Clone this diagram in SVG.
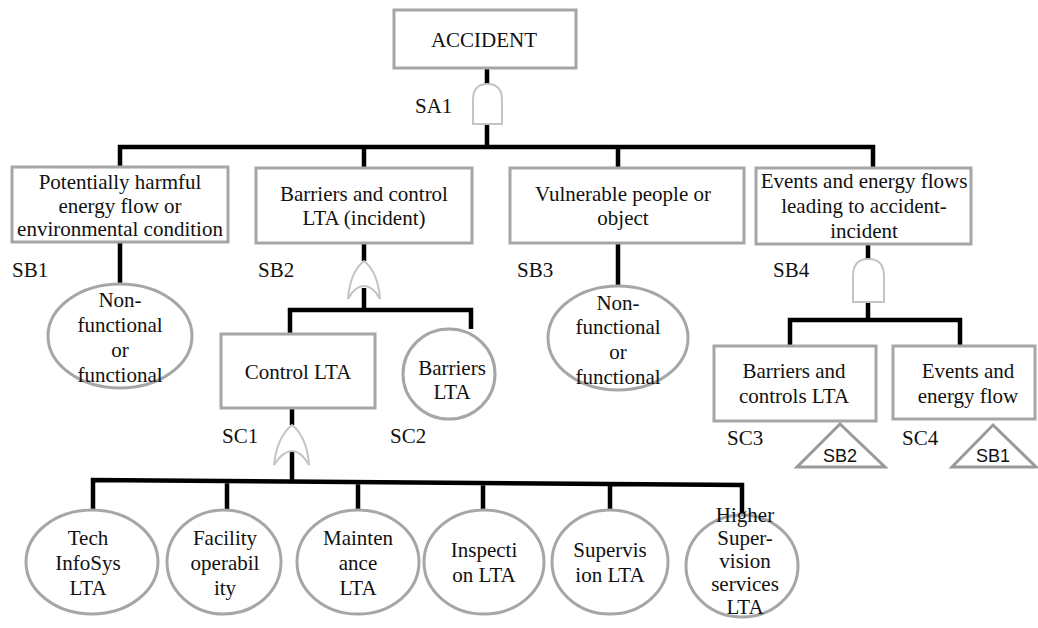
<svg xmlns="http://www.w3.org/2000/svg" width="1038" height="628" viewBox="0 0 1038 628" font-family="'Liberation Serif', 'Times New Roman', Tinos, serif">
  <style>
    .box { fill: #ffffff; stroke: #a6a6a6; stroke-width: 3; }
    .circ { fill: #ffffff; stroke: #a6a6a6; stroke-width: 3; }
    .tri { fill: #ffffff; stroke: #9a9a9a; stroke-width: 3; stroke-linejoin: miter; }
    .gate { fill: #ffffff; stroke: #c4c4c4; stroke-width: 2; }
    .wire { fill: none; stroke: #000000; stroke-width: 4.5; stroke-linejoin: miter; }
    text { font-family: 'Liberation Serif', 'Times New Roman', Tinos, serif; }
    .t { font-size: 21px; fill: #111111; text-anchor: middle; }
    .lbl { font-size: 21px; fill: #111111; }
    text.sans { font-family: 'Liberation Sans', Arial, sans-serif; font-size: 18px; fill: #111111; text-anchor: middle; }
  </style>

  <!-- connectors -->
  <g id="connectors">
    <!-- top event to gate SA1 -->
    <path class="wire" d="M487,68 V84 M487,124 V147"/>
    <path class="wire" d="M120,167 V147 H873 V168 M364,147 V168 M618,147 V168"/>
    <!-- SB1 / SB3 to circles -->
    <path class="wire" d="M120,242 V284 M618,243 V286"/>
    <!-- SB2 gate -->
    <path class="wire" d="M364,243 V261 M364,288 V310 M290,334 V310 H471 V329"/>
    <!-- SC1 gate -->
    <path class="wire" d="M292,408 V425 M292,452 V481"/>
    <path class="wire" d="M93,509 V480 L742,485 V521 M227,480.6 V510 M358,481.6 V510 M483,482.6 V510 M610,483.8 V510"/>
    <!-- SB4 gate -->
    <path class="wire" d="M868,244 V259 M868,302 V320 M790,346 V320 H960 V346"/>
  </g>

  <!-- gates -->
  <g id="gate-SA1">
    <path class="gate" d="M473,124 V100 Q473,84 487.5,84 Q502,84 502,100 V124 Z"/>
    <text class="lbl" x="415" y="113">SA1</text>
  </g>
  <g id="gate-SB2">
    <path class="gate" d="M364,261 Q378,272 380,299 Q373,286 364,286 Q355,286 348,299 Q350,272 364,261 Z"/>
  </g>
  <g id="gate-SC1">
    <path class="gate" d="M292,425 Q307,437 309,465 Q301,451 292,451 Q283,451 274,465 Q277,437 292,425 Z"/>
  </g>
  <g id="gate-SB4">
    <path class="gate" d="M853,302 V276 Q853,259 868.5,259 Q884,259 884,276 V302 Z"/>
  </g>

  <!-- top event -->
  <g id="ACCIDENT">
    <rect class="box" x="394" y="10" width="182" height="58"/>
    <text class="t" x="484" y="47">ACCIDENT</text>
  </g>

  <!-- level B -->
  <g id="SB1">
    <rect class="box" x="12" y="167" width="216" height="75"/>
    <text class="t" x="120" y="189">Potentially harmful</text>
    <text class="t" x="120" y="213">energy flow or</text>
    <text class="t" x="120" y="236">environmental condition</text>
    <text class="lbl" x="12" y="277">SB1</text>
  </g>
  <g id="SB2">
    <rect class="box" x="256" y="168" width="216" height="75"/>
    <text class="t" x="364" y="201">Barriers and control</text>
    <text class="t" x="364" y="225">LTA (incident)</text>
    <text class="lbl" x="258" y="277">SB2</text>
  </g>
  <g id="SB3">
    <rect class="box" x="510" y="168" width="234" height="75"/>
    <text class="t" x="623" y="201">Vulnerable people or</text>
    <text class="t" x="623" y="225">object</text>
    <text class="lbl" x="517" y="277">SB3</text>
  </g>
  <g id="SB4">
    <rect class="box" x="756" y="168" width="215" height="76"/>
    <text class="t" x="864" y="188">Events and energy flows</text>
    <text class="t" x="864" y="213">leading to accident-</text>
    <text class="t" x="864" y="238">incident</text>
    <text class="lbl" x="773" y="277">SB4</text>
  </g>

  <!-- SB1 / SB3 basic events -->
  <g id="SB1-state">
    <ellipse class="circ" cx="120" cy="336" rx="72" ry="52"/>
    <text class="t" x="120" y="307">Non-</text>
    <text class="t" x="120" y="332">functional</text>
    <text class="t" x="120" y="357">or</text>
    <text class="t" x="120" y="382">functional</text>
  </g>
  <g id="SB3-state">
    <ellipse class="circ" cx="618" cy="338" rx="70" ry="52"/>
    <text class="t" x="618" y="310">Non-</text>
    <text class="t" x="618" y="334">functional</text>
    <text class="t" x="618" y="359">or</text>
    <text class="t" x="618" y="384">functional</text>
  </g>

  <!-- level C under SB2 -->
  <g id="SC1">
    <rect class="box" x="221" y="334" width="154" height="74"/>
    <text class="t" x="298" y="379">Control LTA</text>
    <text class="lbl" x="222" y="443">SC1</text>
  </g>
  <g id="SC2">
    <ellipse class="circ" cx="449" cy="374" rx="46" ry="45"/>
    <text class="t" x="452" y="375">Barriers</text>
    <text class="t" x="452" y="399">LTA</text>
    <text class="lbl" x="390" y="443">SC2</text>
  </g>

  <!-- level C under SB4 -->
  <g id="SC3">
    <rect class="box" x="714" y="346" width="162" height="75"/>
    <text class="t" x="794" y="378">Barriers and</text>
    <text class="t" x="794" y="403">controls LTA</text>
    <text class="lbl" x="727" y="445">SC3</text>
    <path class="tri" d="M840,424 L885,467 H797 Z"/>
    <text class="sans" x="840" y="462">SB2</text>
  </g>
  <g id="SC4">
    <rect class="box" x="893" y="346" width="142" height="73"/>
    <text class="t" x="968" y="378">Events and</text>
    <text class="t" x="968" y="403">energy flow</text>
    <text class="lbl" x="902" y="445">SC4</text>
    <path class="tri" d="M993,425 L1036,467 H952 Z"/>
    <text class="sans" x="993" y="462">SB1</text>
  </g>

  <!-- basic events under SC1 -->
  <g id="tech-infosys">
    <ellipse class="circ" cx="92" cy="562" rx="66" ry="52"/>
    <text class="t" x="88" y="545">Tech</text>
    <text class="t" x="88" y="570">InfoSys</text>
    <text class="t" x="88" y="595">LTA</text>
  </g>
  <g id="facility">
    <ellipse class="circ" cx="224" cy="562" rx="57" ry="52"/>
    <text class="t" x="225" y="545">Facility</text>
    <text class="t" x="225" y="570">operabil</text>
    <text class="t" x="225" y="595">ity</text>
  </g>
  <g id="maintenance">
    <ellipse class="circ" cx="358" cy="562" rx="61" ry="52"/>
    <text class="t" x="358" y="545">Mainten</text>
    <text class="t" x="358" y="570">ance</text>
    <text class="t" x="358" y="595">LTA</text>
  </g>
  <g id="inspection">
    <ellipse class="circ" cx="484" cy="562" rx="60" ry="52"/>
    <text class="t" x="484" y="557">Inspecti</text>
    <text class="t" x="484" y="582">on LTA</text>
  </g>
  <g id="supervision">
    <ellipse class="circ" cx="610" cy="562" rx="58" ry="52"/>
    <text class="t" x="610" y="557">Supervis</text>
    <text class="t" x="610" y="582">ion LTA</text>
  </g>
  <g id="higher-supervision">
    <ellipse class="circ" cx="742" cy="566" rx="56" ry="51"/>
    <text class="t" x="745" y="522">Higher</text>
    <text class="t" x="745" y="545">Super-</text>
    <text class="t" x="745" y="568">vision</text>
    <text class="t" x="745" y="591">services</text>
    <text class="t" x="745" y="614">LTA</text>
  </g>
</svg>
